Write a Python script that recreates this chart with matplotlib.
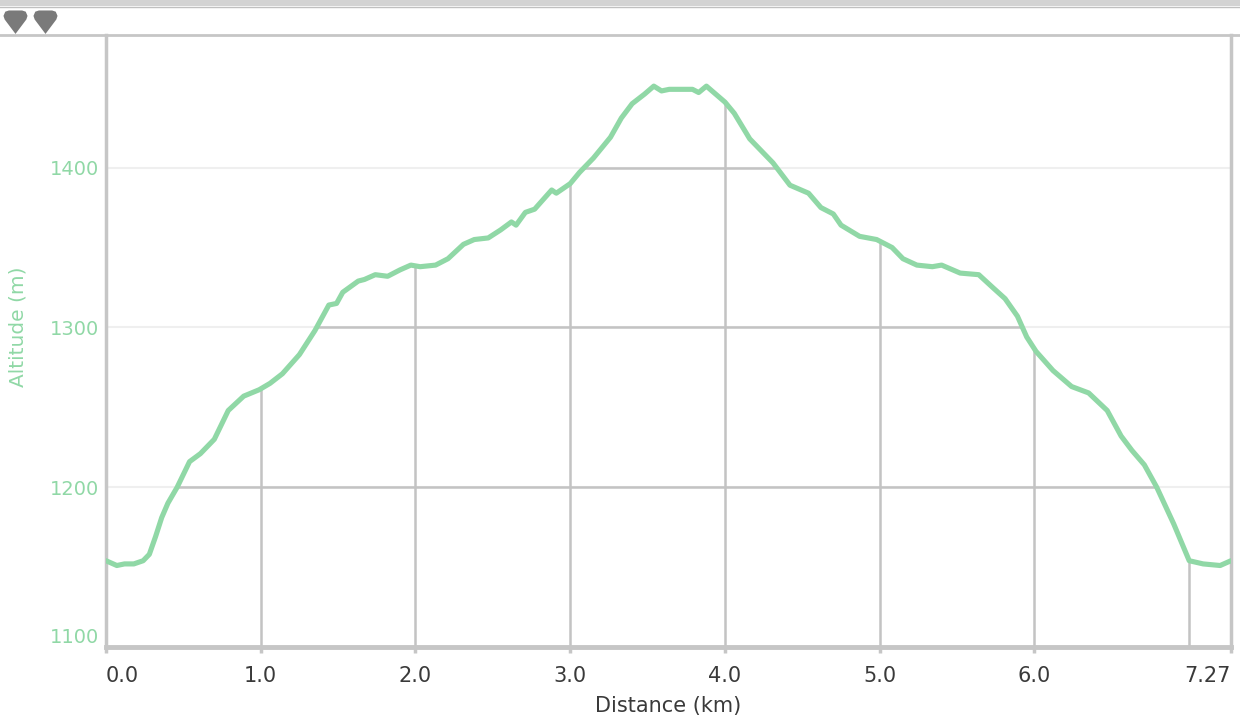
import numpy as np
import matplotlib.pyplot as plt
from matplotlib.patches import Polygon, Rectangle
from matplotlib.lines import Line2D
from matplotlib.path import Path

# elevation profile
distance_km = [0.00, 0.07, 0.12, 0.18, 0.24, 0.28, 0.32, 0.36, 0.40, 0.46, 0.54, 0.61,
               0.70, 0.79, 0.89, 0.99, 1.06, 1.14, 1.25, 1.35, 1.44, 1.49, 1.53, 1.63,
               1.67, 1.74, 1.82, 1.90, 1.97, 2.03, 2.13, 2.21, 2.31, 2.38, 2.47, 2.55,
               2.62, 2.65, 2.71, 2.77, 2.88, 2.91, 3.00, 3.06, 3.15, 3.26, 3.33, 3.40,
               3.48, 3.54, 3.59, 3.64, 3.79, 3.83, 3.88, 3.94, 4.00, 4.06, 4.16, 4.23,
               4.31, 4.42, 4.54, 4.62, 4.70, 4.75, 4.87, 4.98, 5.08, 5.15, 5.24, 5.34,
               5.40, 5.52, 5.64, 5.73, 5.81, 5.89, 5.95, 6.01, 6.12, 6.24, 6.35, 6.47,
               6.56, 6.63, 6.71, 6.79, 6.90, 7.00, 7.09, 7.20, 7.27]
altitude_m = [1154, 1151, 1152, 1152, 1154, 1158, 1169, 1181, 1190, 1200, 1216, 1221,
              1230, 1248, 1257, 1261, 1265, 1271, 1283, 1298, 1314, 1315, 1322, 1329,
              1330, 1333, 1332, 1336, 1339, 1338, 1339, 1343, 1352, 1355, 1356, 1361,
              1366, 1364, 1372, 1374, 1386, 1384, 1390, 1397, 1406, 1419, 1431, 1440,
              1446, 1451, 1448, 1449, 1449, 1447, 1451, 1446, 1441, 1434, 1418, 1411,
              1403, 1389, 1384, 1375, 1371, 1364, 1357, 1355, 1350, 1343, 1339, 1338,
              1339, 1334, 1333, 1325, 1318, 1307, 1294, 1285, 1273, 1263, 1259, 1248,
              1232, 1223, 1214, 1200, 1177, 1154, 1152, 1151, 1154]

x_ticks = [0, 1, 2, 3, 4, 5, 6, 7.27]
x_labels = ['0.0', '1.0', '2.0', '3.0', '4.0', '5.0', '6.0', '7.27']
x_grid = [1, 2, 3, 4, 5, 6, 7]
y_ticks = [1100, 1200, 1300, 1400]

green = '#90d8a6'
grid_gray = '#c3c3c3'
frame_gray = '#c6c6c6'
text_gray = '#3a3a3a'

plt.rcParams['font.family'] = 'DejaVu Sans'

fig = plt.figure(figsize=(12.4, 7.28), dpi=100)
ax = fig.add_axes([106 / 1240, 81 / 728, 1125 / 1240, 612 / 728])
ax.set_xlim(0, 7.27)
ax.set_ylim(1100, 1483)

# faint horizontal grid over the whole plot
ax.hlines(y_ticks[1:], 0, 7.27, colors='#efefef', linewidth=1.5, zorder=1)

# darker grid only below the profile
verts = [(0, 1100)] + list(zip(distance_km, altitude_m)) + [(7.27, 1100)]
area = Polygon(verts, closed=True, facecolor='none', edgecolor='none', transform=ax.transData)
ax.add_patch(area)
hl = ax.hlines(y_ticks[1:], 0, 7.27, colors=grid_gray, linewidth=1.8, zorder=2)
vl = ax.vlines(x_grid, 1100, 1483, colors=grid_gray, linewidth=1.8, zorder=2)
hl.set_clip_path(area)
vl.set_clip_path(area)

ax.plot(distance_km, altitude_m, color=green, linewidth=3.7, solid_capstyle='round',
        solid_joinstyle='round', zorder=3)

ax.spines['top'].set_visible(False)
ax.spines['left'].set_color(frame_gray)
ax.spines['left'].set_linewidth(2.5)
ax.spines['right'].set_color(frame_gray)
ax.spines['right'].set_linewidth(2.5)
ax.spines['bottom'].set_color(frame_gray)
ax.spines['bottom'].set_linewidth(3.5)

ax.set_xticks(x_ticks)
ax.set_xticklabels(x_labels)
ax.tick_params(axis='x', length=4, width=2.5, color=frame_gray, pad=10, labelsize=15,
               labelcolor=text_gray)
xl = ax.get_xticklabels()
xl[0].set_ha('left')
xl[-1].set_ha('right')

ax.set_yticks(y_ticks)
ax.tick_params(axis='y', length=0, pad=5, labelsize=14, labelcolor=green)
ax.get_yticklabels()[0].set_va('bottom')

ax.set_xlabel('Distance (km)', fontsize=15, color=text_gray, labelpad=7)
fig.text(18 / 1240, 1 - 327 / 728, 'Altitude (m)', rotation=90, fontsize=14.5, color=green,
         ha='center', va='center')

# header strip
fig.add_artist(Rectangle((0, 1 - 6 / 728), 1, 6 / 728, transform=fig.transFigure,
                         facecolor='#d3d3d3', edgecolor='none'))
fig.add_artist(Line2D([0, 1], [1 - 6.5 / 728] * 2, transform=fig.transFigure,
                      color='#c0c0c0', linewidth=1))
fig.add_artist(Line2D([0, 1], [1 - 34.5 / 728] * 2, transform=fig.transFigure,
                      color=frame_gray, linewidth=2))

pin = Path([(-1, 0.55), (-0.85, 0.9), (-0.55, 1.0), (0.55, 1.0), (0.85, 0.9), (1, 0.55),
            (0.9, 0.25), (0, -0.95), (-0.9, 0.25), (-1, 0.55)])
hdr = fig.add_axes([0, 1 - 34 / 728, 1, 28 / 728])
hdr.set_xlim(0, 1240)
hdr.set_ylim(34, 6)
hdr.axis('off')
hdr.scatter([15, 45], [22, 22], marker=pin, s=300, color='#7a7a7a', linewidths=0)

fig.savefig('out.png', dpi=100)
